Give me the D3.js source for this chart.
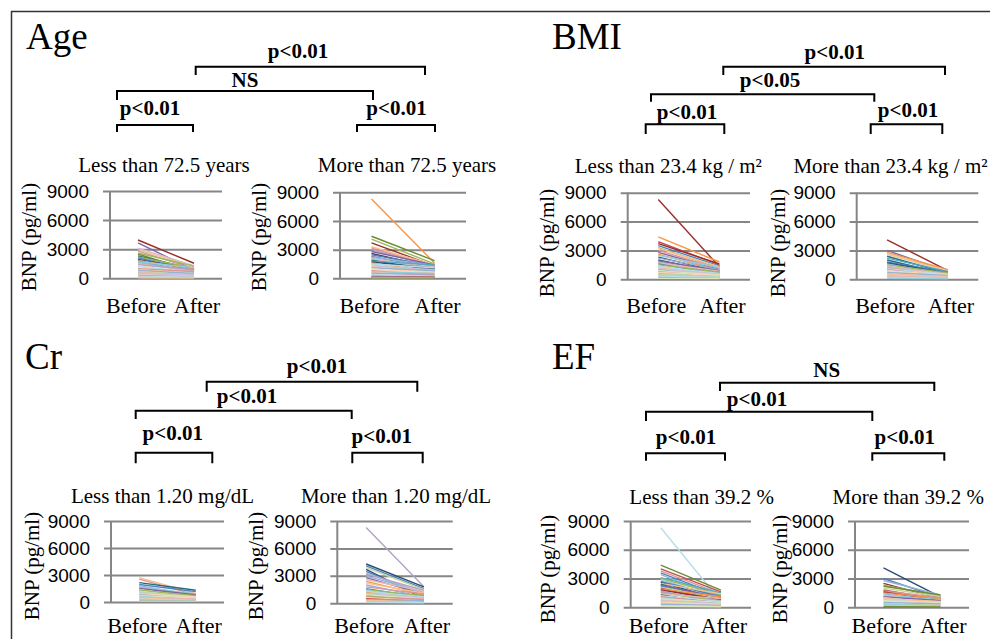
<!DOCTYPE html>
<html>
<head>
<meta charset="utf-8">
<script src="https://cdn.jsdelivr.net/npm/d3@7"></script>
<style>
  html, body { margin: 0; padding: 0; background: #ffffff; }
  svg { display: block; }
</style>
</head>
<body>
<svg id="chart" width="990" height="639"></svg>
<script>
// ---------------- DATA ----------------
const categories = ["Before", "After"];
const yTicks = [0, 3000, 6000, 9000];
const yLabel = "BNP (pg/ml)";
const panelTitles = ["Age", "BMI", "Cr", "EF"];
const subTitles = [
  "Less than 72.5 years", "More than 72.5 years",
  "Less than 23.4 kg / m²", "More than 23.4 kg / m²",
  "Less than 1.20 mg/dL", "More than 1.20 mg/dL",
  "Less than 39.2 %", "More than 39.2 %"
];
// significance labels per panel: [top, middle, lower-left, lower-right]
const ageSig = ["p<0.01", "NS", "p<0.01", "p<0.01"];
const bmiSig = ["p<0.01", "p<0.05", "p<0.01", "p<0.01"];
const crSig  = ["p<0.01", "p<0.01", "p<0.01", "p<0.01"];
const efSig  = ["NS", "p<0.01", "p<0.01", "p<0.01"];

// Excel-like line palette
const palette = [
  "#4F81BD", "#C0504D", "#9BBB59", "#8064A2", "#4BACC6", "#F79646",
  "#2C4D75", "#9B2D2A", "#6E8A35", "#4D3B62", "#276A7C", "#B65708",
  "#95B3D7", "#D99694", "#C3D69B", "#B3A2C7", "#93CDDD", "#FAC090",
  "#E6B9B8", "#B9CDE5", "#D7E4BD", "#CCC1DA", "#B7DEE8", "#FCD5B5"
];

// Age < 72.5
const ageLowBefore = [3950,3650,3100,2950,2800,2600,2500,2300,2200,2100,1950,1850,1800,1700,1600,1500,1400,1300,1200,1100,1000,900,800,700,600,500,450,350,300,200,150,100,60];
const ageLowAfter  = [1550, 850,1300,1200,1000,1250, 700, 950,1050, 800, 900, 950, 600,1100, 800, 700, 900, 500, 650, 450, 700,400,500,300,350,250,400,200,150,100,120, 60,40];
const ageLowColor  = [7,3,21,17,13,2,8,10,2,0,6,5,4,16,12,18,15,20,22,23,13,17,12,14,18,16,21,23,12,20,22,18,17];

// Age > 72.5
const ageHighBefore = [8300,4400,4100,3700,3300,3150,3000,2800,2600,2450,2300,2200,2100,2000,1900,1800,1700,1600,1500,1400,1300,1200,1100,1000,900,800,700,600,500,400,300,200,150,100,50];
const ageHighAfter  = [1600,1850,1500,1300,1400,1250,1200,1400,1100,1300,1000,1350, 900,1200, 800,1400,1000, 700,1100, 600, 900, 500, 800, 400,650,300,500,250,400,200,150,120,100, 80,50];
const ageHighColor  = [5,8,2,7,17,13,15,3,9,0,3,12,16,18,10,4,6,5,22,14,21,17,12,20,23,13,16,18,15,22,14,1,12,7,2];

// BMI < 23.4
const bmiLowBefore = [8300,4400,3900,3700,3500,3300,3200,3000,2800,2600,2500,2300,2200,2000,1900,1800,1700,1600,1500,1400,1300,1200,1100,1000,900,800,700,600,500,400,300,200,100];
const bmiLowAfter  = [1300,1800,1500,1600,1400,1200,1300,1100,1000, 900,1200, 800,1000, 700, 900, 600, 850, 500, 750, 400, 600, 350, 500, 300,450,250,400,200,300,150,200,100, 80];
const bmiLowColor  = [7,5,1,7,0,2,17,13,3,5,16,9,12,10,3,15,18,0,2,14,22,17,21,12,20,13,23,16,14,18,22,12,20];

// BMI > 23.4
const bmiHighBefore = [4100,3000,2800,2700,2600,2400,2200,2000,1800,1700,1600,1500,1400,1300,1200,1100,1000,900,800,700,600,500,400,300,200,100];
const bmiHighAfter  = [ 900, 800,1000, 700, 900, 600, 800, 500, 700, 600, 450, 650, 400, 550, 350, 500, 300,450,250,400,200,300,150,200,100, 60];
const bmiHighColor  = [7,3,5,14,17,10,4,10,0,6,12,2,16,18,13,22,15,23,20,12,21,17,14,18,22,16];

// Cr < 1.20
const crLowBefore = [2700,2550,2150,1950,1800,1700,1600,1500,1400,1300,1200,1100,1000,900,800,700,600,500,400,300,200,100];
const crLowAfter  = [ 950, 800,1300,1150, 700, 900, 600, 800, 500, 700, 450, 600, 400,550,300,450,250,350,200,150,100, 80];
const crLowColor  = [17,13,10,0,12,16,15,3,18,2,22,14,21,23,12,20,16,18,17,22,12,14];

// Cr > 1.20
const crHighBefore = [8300,4300,4100,3900,3700,3500,3300,3200,3000,2800,2600,2400,2200,2000,1800,1600,1500,1400,1300,1200,1100,1000,900,800,700,600,500,400,300,200,100];
const crHighAfter  = [1800,1800,1600,1500, 500, 800,1100,1400,1200,1000,1300, 900,1100, 700,1000, 600, 800, 500, 700, 400, 600, 350,500,300,450,250,200,300,150,100, 60];
const crHighColor  = [15,6,0,14,6,0,16,15,12,3,18,5,17,12,13,0,2,16,22,5,21,14,20,2,13,23,1,12,17,18,22];

// EF < 39.2
const efLowBefore = [8300,4400,4000,3800,3600,3400,3100,3000,2900,2700,2600,2500,2400,2300,2200,2100,2000,1900,1800,1700,1600,1500,1400,1300,1200,1100,1000,900,800,700,600,500,400,300,200,100];
const efLowAfter  = [ 600,1800,1600,1400,1200,1000,1500,1300, 900,1100, 800,1400, 700,1000, 600, 900, 500,1100, 800, 400, 700, 600, 900, 350, 600, 450, 300,500,250,400,200,300,150,200,100, 60];
const efLowColor  = [22,8,1,13,0,12,4,2,16,0,6,17,10,3,0,14,1,5,7,12,15,2,18,9,22,13,16,20,17,21,14,23,18,12,22,20];

// EF > 39.2
const efHighBefore = [4100,3000,2800,2500,2300,2200,2000,1800,1700,1600,1500,1400,1300,1200,1100,1000,900,800,700,600,500,400,300,200,50];
const efHighAfter  = [1100,1000,1300, 900,1200,1300,1100, 800,1000, 700, 900, 600, 800, 500, 700, 400,600,350,500,250,350,200,150,100,30];
const efHighColor  = [6,0,12,7,2,8,14,1,13,7,5,12,16,18,3,22,17,21,20,23,12,14,16,18,8];

// ---------------- LAYOUT ----------------
const svg = d3.select("#chart");
const serif = "'Liberation Serif', 'Times New Roman', Times, serif";
const sans = "'Liberation Sans', Arial, sans-serif";

// figure border (top and left)
svg.append("line").attr("x1", 11).attr("x2", 990).attr("y1", 11.5).attr("y2", 11.5)
  .attr("stroke", "#333").attr("stroke-width", 1.5);
svg.append("line").attr("x1", 11.5).attr("x2", 11.5).attr("y1", 11).attr("y2", 639)
  .attr("stroke", "#333").attr("stroke-width", 1.5);

const plots = [
  { before: ageLowBefore,  after: ageLowAfter,  color: ageLowColor,  x0: 110,   x1: 222,   yT: 191,   yB: 278.3, lx: 29,    ly: 237, sx: 164,   sy: 172, cy: 313 },
  { before: ageHighBefore, after: ageHighAfter, color: ageHighColor, x0: 340,   x1: 466,   yT: 192.3, yB: 278.3, lx: 259,   ly: 237, sx: 407,   sy: 172, cy: 313 },
  { before: bmiLowBefore,  after: bmiLowAfter,  color: bmiLowColor,  x0: 627.7, x1: 750,   yT: 192.7, yB: 279.3, lx: 546.7, ly: 243, sx: 668.3, sy: 173, cy: 313 },
  { before: bmiHighBefore, after: bmiHighAfter, color: bmiHighColor, x0: 856.7, x1: 978.3, yT: 192.7, yB: 279.3, lx: 778.3, ly: 243, sx: 890.5, sy: 173, cy: 313 },
  { before: crLowBefore,   after: crLowAfter,   color: crLowColor,   x0: 111,   x1: 224,   yT: 521,   yB: 602,   lx: 32,    ly: 566, sx: 162.5, sy: 503, cy: 633 },
  { before: crHighBefore,  after: crHighAfter,  color: crHighColor,  x0: 337.3, x1: 452.7, yT: 521,   yB: 603.3, lx: 256,   ly: 566, sx: 396,   sy: 503, cy: 633 },
  { before: efLowBefore,   after: efLowAfter,   color: efLowColor,   x0: 630.7, x1: 751,   yT: 521,   yB: 607.3, lx: 548.3, ly: 569, sx: 701.7, sy: 504, cy: 633 },
  { before: efHighBefore,  after: efHighAfter,  color: efHighColor,  x0: 855,   x1: 969,   yT: 521,   yB: 607.3, lx: 780,   ly: 569, sx: 908.3, sy: 504, cy: 633 }
];

const gridColor = "#868686";

plots.forEach((p, i) => {
  const x = d3.scalePoint().domain(categories).range([p.x0, p.x1]).padding(0.5);
  const y = d3.scaleLinear().domain([0, 9000]).range([p.yB, p.yT]);
  const g = svg.append("g");

  // gridlines + tick labels
  const ax = g.append("g").attr("transform", `translate(${p.x0 - 7},0)`)
    .call(d3.axisLeft(y).tickValues(yTicks).tickSize(-(p.x1 - p.x0 + 7)).tickPadding(14).tickFormat(d3.format("d")));
  ax.select(".domain").remove();
  ax.selectAll(".tick line").attr("stroke", gridColor).attr("stroke-width", 2);
  ax.selectAll(".tick text").attr("fill", "#000").style("font-family", sans).style("font-size", "19px");

  // vertical axis line
  g.append("line").attr("x1", p.x0).attr("x2", p.x0).attr("y1", y(9000)).attr("y2", y(0))
    .attr("stroke", gridColor).attr("stroke-width", 2);

  // patient lines
  const pairs = p.before.map((b, k) => ({ b, a: p.after[k], c: palette[p.color[k] % palette.length] }));
  g.append("g").selectAll("line").data(pairs).join("line")
    .attr("x1", x("Before")).attr("x2", x("After"))
    .attr("y1", d => y(d.b)).attr("y2", d => y(d.a))
    .attr("stroke", d => d.c).attr("stroke-width", 1.4);

  // category labels
  g.selectAll("text.cat").data(categories).join("text").attr("class", "cat")
    .attr("x", d => x(d) + (d === "Before" ? -2 : 3)).attr("y", p.cy)
    .attr("text-anchor", "middle").style("font-family", serif).style("font-size", "22px")
    .text(d => d);

  // y axis title
  g.append("text").attr("transform", `translate(${p.lx},${p.ly}) rotate(-90)`)
    .attr("text-anchor", "middle").attr("dominant-baseline", "central")
    .style("font-family", serif).style("font-size", "21px").text(yLabel);

  // subtitle
  g.append("text").attr("x", p.sx).attr("y", p.sy).attr("text-anchor", "middle")
    .style("font-family", serif).style("font-size", "21px").text(subTitles[i]);
});

// panel titles
const titlePos = [[26, 49], [552, 49], [25, 369], [552, 369]];
panelTitles.forEach((t, i) => {
  svg.append("text").attr("x", titlePos[i][0]).attr("y", titlePos[i][1])
    .style("font-family", serif).style("font-size", "37px").text(t);
});

// significance brackets: [xLeft, xRight, yLine, yTickEnd, textX, textY]
const brackets = [
  { sig: ageSig, geo: [[195.7, 425, 66.7, 75, 298, 58], [117, 373, 91, 100, 245, 86.7], [117, 193, 125, 132, 150, 115], [357, 435, 125, 132, 396.5, 115]] },
  { sig: bmiSig, geo: [[723.3, 945, 66.7, 75, 834.7, 59], [651, 874.3, 94.3, 101.7, 770, 87], [645.7, 724.3, 124.3, 134, 687, 119], [870.7, 942.3, 124.3, 134, 908, 117.3]] },
  { sig: crSig,  geo: [[206.7, 417.3, 381.7, 391.7, 317, 373.3], [135.7, 351.7, 410.7, 419, 247, 403.3], [135.7, 212.3, 452.7, 463.3, 172.8, 440], [352.3, 422.7, 452.7, 463.3, 381.7, 442.7]] },
  { sig: efSig,  geo: [[720, 934.3, 382.7, 391, 826.7, 377.3], [646, 872.3, 411.7, 421, 757, 406], [646, 725, 453.3, 460.7, 686, 444], [872.3, 944.3, 453.3, 460.7, 904.7, 444]] }
];
brackets.forEach(bk => {
  bk.geo.forEach((gq, j) => {
    const [xl, xr, yl, yt, tx, ty] = gq;
    svg.append("path")
      .attr("d", `M${xl},${yt} L${xl},${yl} L${xr},${yl} L${xr},${yt}`)
      .attr("fill", "none").attr("stroke", "#000").attr("stroke-width", 2);
    svg.append("text").attr("x", tx).attr("y", ty).attr("text-anchor", "middle")
      .style("font-family", serif).style("font-size", "21px").style("font-weight", "bold")
      .text(bk.sig[j]);
  });
});
</script>
</body>
</html>
